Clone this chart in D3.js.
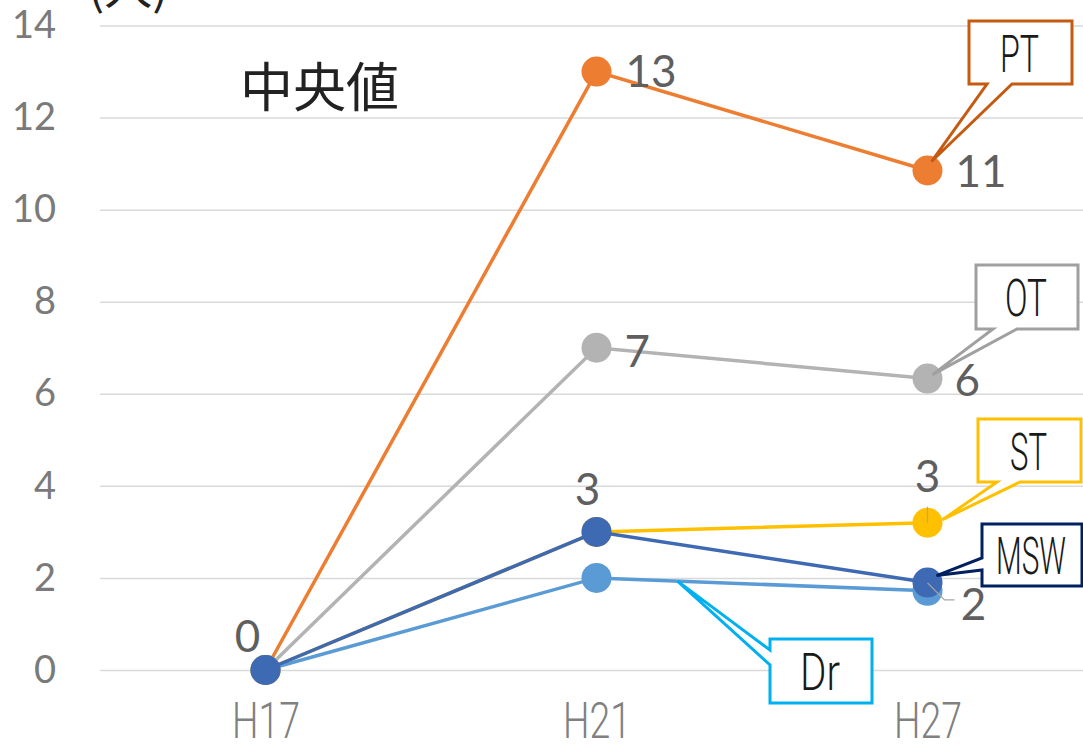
<!DOCTYPE html>
<html>
<head>
<meta charset="utf-8">
<script src="https://cdn.jsdelivr.net/npm/d3@7"></script>
<style>
  body { margin: 0; background: #fff; }
  svg { display: block; }
</style>
</head>
<body>
<div id="chart"></div>
<script>
// 1: DATA
const categories = ["H17", "H21", "H27"];
const yTicks = [0, 2, 4, 6, 8, 10, 12, 14];
const ptValues = [0, 13, 10.85];
const otValues = [0, 7, 6.33];
const stValues = [0, 3, 3.2];
const drValues = [0, 2, 1.72];
const mswValues = [0, 3, 1.9];

// 2: GLOBALS
const width = 1083, height = 745;
const numFont = "Lato, 'Open Sans', sans-serif";
const narrowFont = "Roboto, 'Liberation Sans Narrow', sans-serif";

const svg = d3.select("#chart")
    .append("svg")
    .attr("width", width)
    .attr("height", height);

// 3: SCALES
const x = d3.scalePoint()
    .domain(categories)
    .range([100, 1093])
    .padding(0.5);

const y = d3.scaleLinear()
    .domain([0, 14])
    .range([670, 25.5]);

// 4: AXES
const yAxis = svg.append("g")
    .attr("transform", "translate(100,0)")
    .call(d3.axisLeft(y).tickValues(yTicks).tickSize(-983).tickPadding(44));
yAxis.select(".domain").remove();
yAxis.selectAll(".tick line").attr("stroke", "#d9d9d9").attr("stroke-width", 1.5);
yAxis.selectAll(".tick text")
    .style("font-family", numFont)
    .style("font-size", "38px")
    .attr("fill", "#7a7a7a");

const xAxis = svg.append("g")
    .attr("transform", "translate(0,699)")
    .call(d3.axisBottom(x).tickSize(0).tickPadding(3));
xAxis.select(".domain").remove();
xAxis.selectAll(".tick text")
    .style("font-family", narrowFont)
    .style("font-weight", 300)
    .style("font-size", "50px")
    .attr("fill", "#808080")
    .attr("textLength", 68)
    .attr("lengthAdjust", "spacingAndGlyphs");

// 5: SERIES (drawn in this order, last on top)
const series = [
    { name: "PT", values: ptValues, color: "#ED7D31" },
    { name: "OT", values: otValues, color: "#B3B3B3" },
    { name: "ST", values: stValues, color: "#FFC000" },
    { name: "Dr", values: drValues, color: "#5B9BD5" },
    { name: "MSW", values: mswValues, color: "#3E69B3" }
];

const line = d3.line()
    .x((d, i) => x(categories[i]))
    .y(d => y(d));

series.forEach(s => {
    svg.append("path")
        .attr("d", line(s.values))
        .attr("fill", "none")
        .attr("stroke", s.color)
        .attr("stroke-width", 3.5);

    svg.append("g").selectAll("circle")
        .data(s.values)
        .join("circle")
        .attr("cx", (d, i) => x(categories[i]))
        .attr("cy", d => y(d))
        .attr("r", 15)
        .attr("fill", s.color);
});

// 6: DATA LABELS
const labels = [
    { values: ptValues, i: 1, dx: 29, dy: 15, anchor: "start" },
    { values: ptValues, i: 2, dx: 28, dy: 16, anchor: "start" },
    { values: otValues, i: 1, dx: 28, dy: 19, anchor: "start" },
    { values: otValues, i: 2, dx: 27, dy: 17, anchor: "start" },
    { values: mswValues, i: 1, dx: -9, dy: -27, anchor: "middle" },
    { values: stValues, i: 2, dx: 0, dy: -31, anchor: "middle" },
    { values: drValues, i: 2, dx: 46, dy: 29, anchor: "middle" },
    { values: mswValues, i: 0, dx: -18, dy: -18, anchor: "middle" }
];

// leader lines
const ldr = (s, i) => [x(categories[i]), y(s[i])];
const [drx, dry] = ldr(drValues, 2);
svg.append("path")
    .attr("d", `M${drx},${dry - 8}L${drx + 17},${dry + 9}H${drx + 27}`)
    .attr("fill", "none").attr("stroke", "#a6a6a6").attr("stroke-width", 1.2);
const [stx, sty] = ldr(stValues, 2);
svg.append("line")
    .attr("x1", stx).attr("x2", stx).attr("y1", sty - 16).attr("y2", sty)
    .attr("stroke", "#a6a6a6").attr("stroke-width", 1.2);

svg.append("g").selectAll("text")
    .data(labels)
    .join("text")
    .attr("x", d => x(categories[d.i]) + d.dx)
    .attr("y", d => y(d.values[d.i]) + d.dy)
    .attr("text-anchor", d => d.anchor)
    .style("font-family", numFont)
    .style("font-size", "44px")
    .attr("fill", "#5f5f5f")
    .text(d => d3.format(".0f")(d.values[d.i]));

// 7: CALLOUTS
function calloutPath(c, tx, ty) {
    const [x0, y0, x1, y1] = c.box;
    const [a, b] = c.base;
    if (c.side === "bottom") {
        return `M${x0},${y0}H${x1}V${y1}H${b}L${tx},${ty}L${a},${y1}H${x0}Z`;
    }
    return `M${x0},${y0}H${x1}V${y1}H${x0}V${b}L${tx},${ty}L${x0},${a}Z`;
}

const callouts = [
    { text: "PT", color: "#C55A11", box: [969, 21, 1072, 84], side: "bottom", base: [987, 1012],
      tip: () => [x("H27") + 4, y(ptValues[2]) - 9], tl: 39 },
    { text: "OT", color: "#A0A0A0", box: [976, 265, 1078, 329], side: "bottom", base: [993, 1017],
      tip: () => [x("H27") + 5, y(otValues[2]) - 4], tl: 42 },
    { text: "ST", color: "#FFC000", box: [978, 419, 1081, 482], side: "bottom", base: [997, 1020],
      tip: () => [x("H27") + 15, y(stValues[2]) - 3], tl: 37 },
    { text: "MSW", color: "#002060", box: [982, 524, 1082, 586], side: "left", base: [558, 570],
      tip: () => [x("H27") + 9, y(mswValues[2]) - 7], tl: 70 },
    { text: "Dr", color: "#00B0F0", box: [770, 639, 872, 703], side: "left", base: [650, 665],
      tip: () => [x("H21") + 81, y(drValues[1] + 0.245 * (drValues[2] - drValues[1]))], tl: 40 }
];

callouts.forEach(c => {
    const [tx, ty] = c.tip();
    svg.append("path")
        .attr("d", calloutPath(c, tx, ty))
        .attr("fill", "#fff")
        .attr("stroke", c.color)
        .attr("stroke-width", 3)
        .attr("stroke-linejoin", "miter");
    svg.append("text")
        .attr("x", (c.box[0] + c.box[2]) / 2 - 1)
        .attr("y", (c.box[1] + c.box[3]) / 2 + 19)
        .attr("text-anchor", "middle")
        .style("font-family", narrowFont)
        .style("font-weight", 300)
        .style("font-size", "52px")
        .attr("fill", "#1a1a1a")
        .attr("textLength", c.tl)
        .attr("lengthAdjust", "spacingAndGlyphs")
        .text(c.text);
});

// 8: TITLES
svg.append("text")
    .attr("x", 240)
    .attr("y", 107)
    .style("font-family", "'Noto Sans CJK JP', sans-serif")
    .style("font-size", "53px")
    .attr("fill", "#222")
    .text("中央値");

svg.append("text")
    .attr("x", 88)
    .attr("y", 4)
    .style("font-family", "'Noto Sans CJK JP', sans-serif")
    .style("font-size", "48px")
    .attr("fill", "#222")
    .text("(人)");
</script>
</body>
</html>
